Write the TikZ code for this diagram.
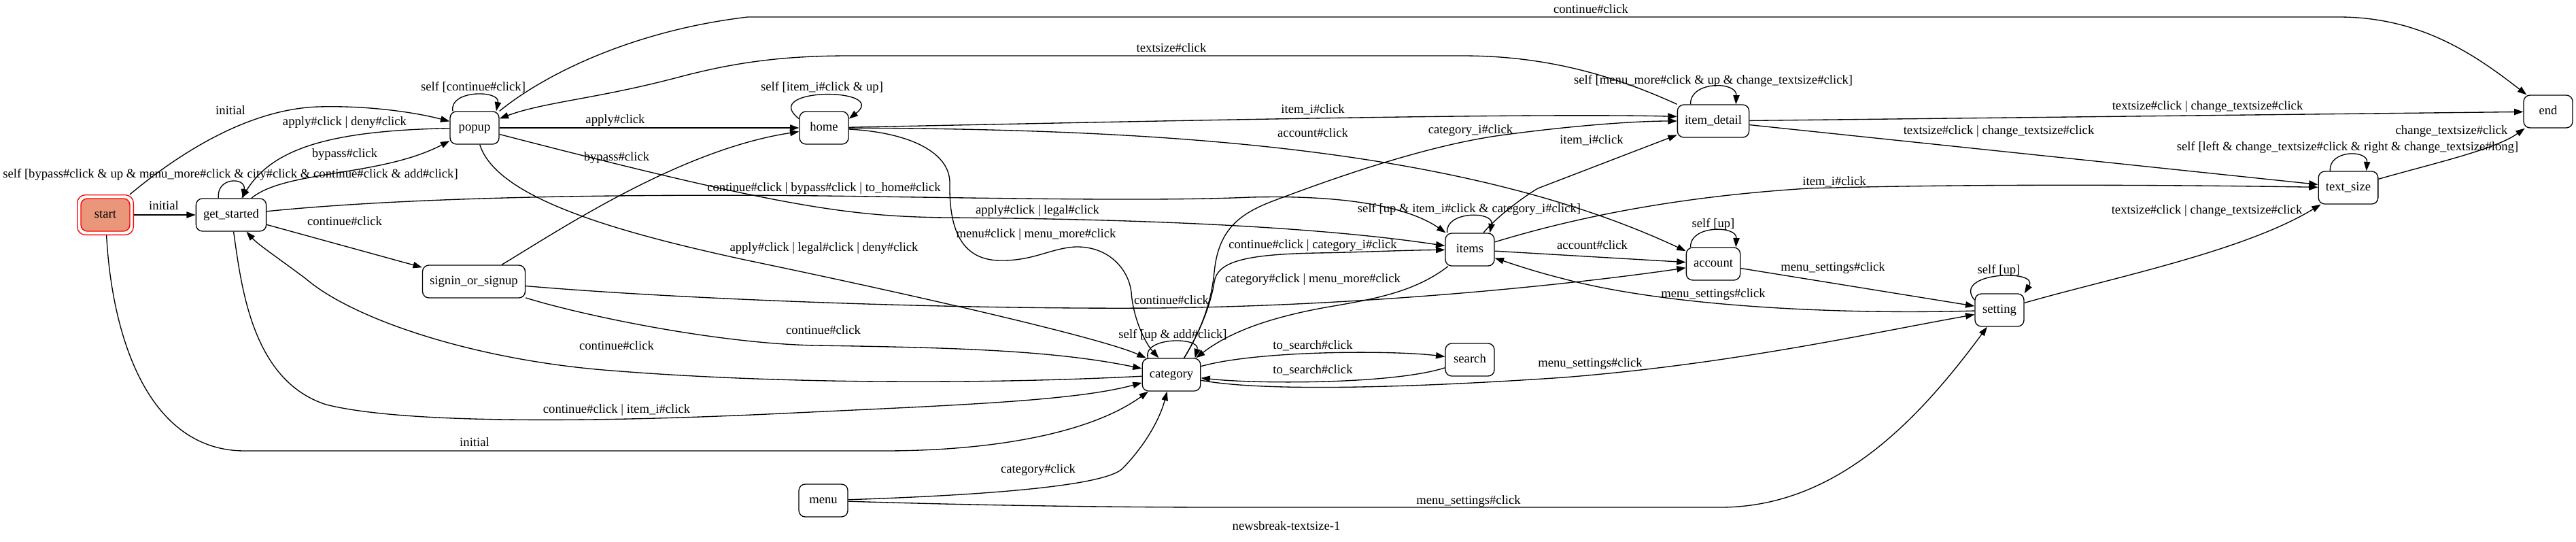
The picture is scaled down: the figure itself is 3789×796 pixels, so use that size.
\documentclass[tikz,border=0pt]{standalone}
\usepackage{fontspec}
\setmainfont{Liberation Serif}
\usetikzlibrary{arrows.meta}
\newcommand{\fsz}{\fontsize{14pt}{16pt}\selectfont}
\definecolor{salmonfill}{HTML}{E9967A}
\begin{document}
\begin{tikzpicture}[x=0.75pt,y=-0.75pt,
  st/.style={draw, line width=1pt, rounded corners=7pt, minimum width=54pt, minimum height=36pt, inner xsep=8pt, inner ysep=2pt, font=\fsz, text height=9.8pt, text depth=3pt},
  startouter/.style={draw=red, line width=1pt, rounded corners=9pt, minimum width=62pt, minimum height=44pt, inner sep=0pt},
  startinner/.style={st, draw=red, fill=salmonfill},
  lbl/.style={inner sep=0pt, font=\fsz, text height=9.8pt, text depth=3pt},
  edg/.style={draw, line width=1pt, -{Triangle[length=10pt,width=7pt]}}]
\useasboundingbox (0,0) rectangle (3789,796);

% nodes
\node[startouter] (start) at (155,316) {};
\node[startinner] (startin) at (155,316) {start};
\node[st] (gs) at (340,316) {get\_started};
\node[st] (popup) at (698,188) {popup};
\node[st] (home) at (1212,188) {home};
\node[st] (signin) at (697,414) {signin\_or\_signup};
\node[st] (itemdetail) at (2520,178) {item\_detail};
\node[st] (end) at (3748,164) {end};
\node[st] (textsize) at (3454,276) {text\_size};
\node[st] (items) at (2162,367) {items};
\node[st] (account) at (2520,388) {account};
\node[st] (setting) at (2941,456) {setting};
\node[st] (search) at (2162,529) {search};
\node[st] (category) at (1723,551) {category};
\node[st] (menu) at (1211,736) {menu};

% edges
\draw[edg] (start) -- (gs) node[lbl] (l1) at (241,304) {initial};
\draw[edg] (start) .. controls (270,220) and (370,160) .. (469,157) .. controls (540,155) and (610,165) .. (popup) node[lbl] (l2) at (339,164) {initial};
\draw[edg] (popup) .. controls (480,192) and (400,220) .. (gs) node[lbl] (l3) at (507,180) {apply\#click | deny\#click};
\draw[edg] (gs) .. controls (420,250) and (560,260) .. (popup) node[lbl] (l4) at (507,227) {bypass\#click};
\draw[edg] ([xshift=-14pt]gs.north) .. controls (318,260) and (362,260) .. ([xshift=13pt]gs.north) node[lbl] (l5) at (339,257) {self [bypass\#click \& up \& menu\_more\#click \& city\#click \& continue\#click \& add\#click]};
\draw[edg] (gs) -- (signin) node[lbl] (l6) at (507,327) {continue\#click};
\draw[edg] (gs) .. controls (600,290) and (900,285) .. (1212,288) .. controls (1500,292) and (1700,296) .. (1840,290) .. controls (2000,286) and (2080,310) .. (items) node[lbl] (l7) at (1212,277) {continue\#click | bypass\#click | to\_home\#click};
\draw[edg] (popup) .. controls (1150,305) and (1250,318) .. (1390,320) .. controls (1700,322) and (1950,335) .. (items) node[lbl] (l8) at (1526,310) {apply\#click | legal\#click};
\draw[edg] (popup) -- (home) node[lbl] (l9) at (905,177) {apply\#click};
\draw[edg] ([xshift=-24pt]popup.north) .. controls (660,132) and (736,132) .. ([xshift=24pt]popup.north) node[lbl] (l10) at (696,129) {self [continue\#click]};
\draw[edg] ([yshift=10pt]home.west) .. controls (1115,128) and (1309,128) .. ([yshift=10pt]home.east) node[lbl] (l11) at (1209,129) {self [item\_i\#click \& up]};
\draw[edg] (home) .. controls (1700,178) and (2250,166) .. ([yshift=5pt]itemdetail.west) node[lbl] (l12) at (1931,162) {item\_i\#click};
\draw[edg] (home) .. controls (1700,190) and (2150,215) .. (account) node[lbl] (l13) at (1931,197) {account\#click};
\draw[edg] (home) .. controls (1340,195) and (1398,225) .. (1397,270) .. controls (1396,330) and (1410,382) .. (1470,383) .. controls (1520,384) and (1545,365) .. (1582,363) .. controls (1630,362) and (1660,395) .. (1664,430) .. controls (1667,470) and (1685,505) .. ([xshift=-14pt]category.north) node[lbl] (l14) at (1524,345) {menu\#click | menu\_more\#click};
\draw[edg] (signin) .. controls (850,462) and (1050,505) .. (1200,508) .. controls (1400,511) and (1550,515) .. (category) node[lbl] (l15) at (1211,487) {continue\#click};
\draw[edg] (category) .. controls (1450,565) and (1150,565) .. (900,545) .. controls (700,530) and (520,470) .. (450,410) .. controls (410,380) and (380,360) .. (gs) node[lbl] (l16) at (907,510) {continue\#click};
\draw[edg] (gs) .. controls (355,420) and (370,560) .. (480,595) .. controls (600,625) and (900,620) .. (1150,608) .. controls (1400,596) and (1580,590) .. (category) node[lbl] (l17) at (907,603) {continue\#click | item\_i\#click};
\draw[edg] (start) .. controls (165,500) and (220,663) .. (360,663) -- (1300,663) .. controls (1450,663) and (1600,640) .. (category) node[lbl] (l18) at (698,652) {initial};
\draw[edg] (menu) .. controls (1450,728) and (1620,715) .. (1650,690) .. controls (1680,660) and (1705,620) .. (category) node[lbl] (l19) at (1527,691) {category\#click};
\draw[edg] (menu) .. controls (1400,742) and (1600,746) .. (1800,746) -- (2530,746) .. controls (2700,746) and (2820,620) .. (setting) node[lbl] (l20) at (2160,737) {menu\_settings\#click};
\draw[edg] (popup) .. controls (730,290) and (900,340) .. (1100,383) .. controls (1350,435) and (1620,497) .. ([xshift=-28pt]category.north) node[lbl] (l21) at (1212,365) {apply\#click | legal\#click | deny\#click};
\draw[edg] (signin) .. controls (1000,440) and (1400,455) .. (1700,453) .. controls (2000,450) and (2300,420) .. (account) node[lbl] (l22) at (1723,443) {continue\#click};
\draw[edg] ([xshift=14pt]category.north) .. controls (1770,480) and (1782,440) .. (1786,415) .. controls (1790,385) and (1830,374) .. (1937,372) .. controls (2000,371) and (2060,368) .. (items) node[lbl] (l23) at (1931,361) {continue\#click | category\_i\#click};
\draw[edg] (items) .. controls (2080,430) and (2020,440) .. (1950,452) .. controls (1850,470) and (1800,495) .. ([xshift=27pt]category.north) node[lbl] (l24) at (1931,411) {category\#click | menu\_more\#click};
\draw[edg] ([xshift=14pt]category.north) .. controls (1770,480) and (1782,440) .. (1786,400) .. controls (1792,340) and (1820,315) .. (1874,295) .. controls (1980,255) and (2100,215) .. (2200,200) .. controls (2300,186) and (2400,178) .. (itemdetail.west) node[lbl] (l25) at (2163,192) {category\_i\#click};
\draw[edg] (items) .. controls (2200,320) and (2240,290) .. (2262,277) -- (itemdetail) node[lbl] (l26) at (2341,207) {item\_i\#click};
\draw[edg] ([xshift=-25pt]items.north) .. controls (2125,310) and (2198,310) .. ([xshift=22pt]items.north) node[lbl] (l27) at (2161,308) {self [up \& item\_i\#click \& category\_i\#click]};
\draw[edg] (items) -- (account) node[lbl] (l28) at (2342,362) {account\#click};
\draw[edg] (items) .. controls (2300,325) and (2450,290) .. (2660,277) .. controls (2900,270) and (3200,272) .. (textsize) node[lbl] (l29) at (2698,268) {item\_i\#click};
\draw[edg] ([xshift=-25pt]account.north) .. controls (2485,331) and (2555,331) .. ([xshift=25pt]account.north) node[lbl] (l31) at (2520,330) {self [up]};
\draw[edg] (account) -- (setting) node[lbl] (l32) at (2696,394) {menu\_settings\#click};
\draw[edg] (setting) .. controls (2700,463) and (2450,450) .. (2300,410) .. controls (2260,400) and (2230,390) .. (items) node[lbl] (l33) at (2520,433) {menu\_settings\#click};
\draw[edg] (category) .. controls (1850,575) and (2050,572) .. (2300,555) .. controls (2550,535) and (2750,490) .. (setting) node[lbl] (l34) at (2339,535) {menu\_settings\#click};
\draw[edg] (category) .. controls (1850,515) and (2050,515) .. (search) node[lbl] (l35) at (1931,509) {to\_search\#click};
\draw[edg] (search) .. controls (2050,565) and (1850,565) .. (category) node[lbl] (l36) at (1931,545) {to\_search\#click};
\draw[edg] ([xshift=-26pt]category.north) .. controls (1680,495) and (1766,495) .. ([xshift=26pt]category.north) node[lbl] (l37) at (1725,493) {self [up \& add\#click]};
\draw[edg] ([yshift=11pt]setting.west) .. controls (2870,400) and (3000,395) .. (setting.north east) node[lbl] (l38) at (2940,398) {self [up]};
\draw[edg] (setting) .. controls (3100,410) and (3300,370) .. (textsize) node[lbl] (l39) at (3246,310) {textsize\#click | change\_textsize\#click};
\draw[edg] (itemdetail) -- (end) node[lbl] (l40) at (3247,157) {textsize\#click | change\_textsize\#click};
\draw[edg] (itemdetail) -- (textsize) node[lbl] (l41) at (2940,193) {textsize\#click | change\_textsize\#click};
\draw[edg] (textsize) .. controls (3580,240) and (3670,220) .. (end) node[lbl] (l42) at (3606,193) {change\_textsize\#click};
\draw[edg] ([xshift=-20pt]textsize.north) .. controls (3425,220) and (3483,220) .. ([xshift=20pt]textsize.north) node[lbl] (l43) at (3453,217) {self [left \& change\_textsize\#click \& right \& change\_textsize\#long]};
\draw[edg] ([xshift=-25pt]itemdetail.north) .. controls (2485,119) and (2555,119) .. ([xshift=25pt]itemdetail.north) node[lbl] (l44) at (2520,119) {self [menu\_more\#click \& up \& change\_textsize\#click]};
\draw[edg] (itemdetail.north west) .. controls (2350,100) and (2250,82) .. (2150,82) -- (1250,82) .. controls (1150,82) and (1080,92) .. (1000,113) .. controls (880,145) and (800,150) .. (popup) node[lbl] (l45) at (1723,72) {textsize\#click};
\draw[edg] (popup.north east) .. controls (800,110) and (930,45) .. (1100,25) -- (3440,25) .. controls (3560,25) and (3640,80) .. (end) node[lbl] (l46) at (2340,15) {continue\#click};
\draw[edg] (signin) .. controls (820,340) and (1000,220) .. (home) node[lbl] (l47) at (907,232) {bypass\#click};

\node[lbl] (caption) at (1892,775) {newsbreak-textsize-1};
\end{tikzpicture}
\end{document}
